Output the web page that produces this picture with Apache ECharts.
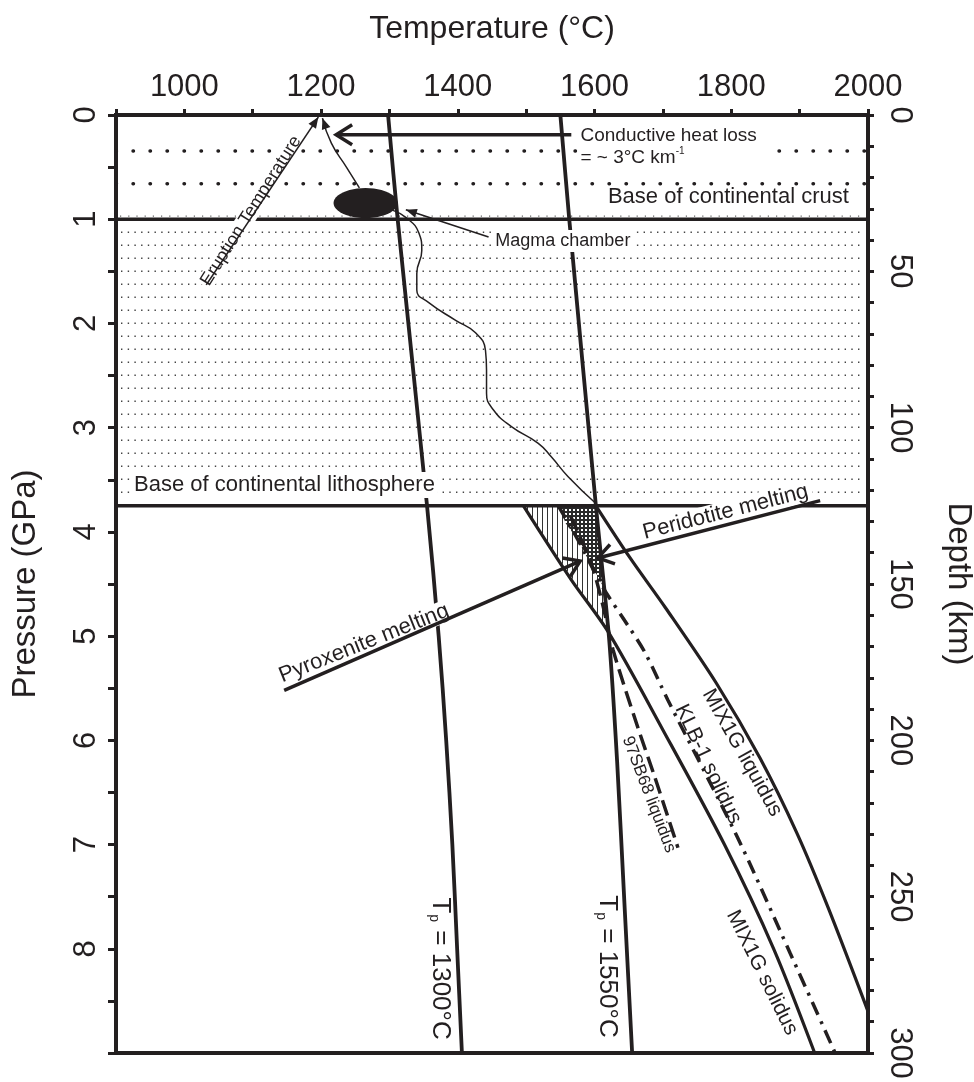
<!DOCTYPE html>
<html><head><meta charset="utf-8">
<script src="https://cdn.jsdelivr.net/npm/echarts@6/dist/echarts.min.js"></script>
<style>html,body{margin:0;padding:0;background:#fff}#c{width:974px;height:1082px}</style>
</head><body><div id="c"></div>
<script>
// ---------------- data (°C, GPa) ----------------
const tempLabels = [1000, 1200, 1400, 1600, 1800, 2000];
const pressureLabels = [0, 1, 2, 3, 4, 5, 6, 7, 8];
const depthLabels = [0, 50, 100, 150, 200, 250, 300];

const crustBase = 1.0;
const lithBase = 3.75;
const dotRows = [0.345, 0.66];

const tp1300 = [[1298,0],[1312,1],[1355,3.75],[1372,5.0],[1383,6.0],[1392,7.0],[1399,8.0],[1406,9]];
const tp1550 = [[1550,0],[1563,1],[1602,3.75],[1621,5.0],[1633,6.2],[1644,7.6],[1655,9]];
const mix1gLiquidus = [[1602,3.75],[1652,4.25],[1704,4.73],[1778,5.45],[1842,6.17],[1896,6.89],[1942,7.61],[2000,8.6]];
const mix1gSolidus = [[1496,3.75],[1566,4.46],[1620,4.96],[1700,5.9],[1790,7.0],[1862,8.0],[1922,9.0]];
const klb1Solidus = [[1547,3.75],[1576,4.08],[1612,4.53],[1644,4.85],[1674,5.16],[1707,5.61],[1809,6.93],[1886,8.04],[1952,9.0]];
const sb68Liquidus = [[1565,3.85],[1595,4.3],[1612,4.7],[1627,5.13],[1663,5.87],[1688,6.35],[1722,7.03]];
const magmaPath = [[1303.6,0.91],[1325.4,0.99],[1342.9,1.13],[1347.3,1.30],[1340,1.52],[1340,1.68],[1357.5,1.80],[1396.8,1.97],[1425.9,2.09],[1440.5,2.26],[1442,2.45],[1442,2.67],[1452.2,2.83],[1478.4,2.99],[1517.7,3.15],[1536.7,3.28],[1561.4,3.47],[1600.8,3.72]];
const ascentPath = [[1256,0.70],[1237,0.50],[1215,0.27],[1202,0.03]];
const magmaChamber = [1265, 0.845];
const pyroxeniteZone = [[1496,3.75],[1602,3.75],[1619,4.95]];
const peridotiteZone = [[1547,3.75],[1602,3.75],[1613,4.53],[1605,4.43],[1591,4.27],[1576,4.08],[1558,3.92]];
const eruptionArrow = [[1032,1.63],[1196,0.02]];
const conductiveArrow = [[1566,0.19],[1222,0.19]];
const chamberArrow = [[1445,1.17],[1324,0.91]];
const peridotiteArrow = [[1930,3.70],[1605,4.25]];
const pyroxeniteArrow = [[1146,5.52],[1579,4.28]];

// ---------------- styling ----------------
const FONT = "'Liberation Sans', Arial, Helvetica, sans-serif";
const INK = '#231f20';

function makeHatch() {
  const cv = document.createElement('canvas'); cv.width = 5; cv.height = 10;
  const g = cv.getContext('2d'); g.fillStyle = '#fff'; g.fillRect(0,0,5,10);
  g.fillStyle = '#333'; g.fillRect(2,0,1,10); return cv;
}
function makeCross() {
  const cv = document.createElement('canvas'); cv.width = 4; cv.height = 4;
  const g = cv.getContext('2d'); g.fillStyle = '#2a2a2a'; g.fillRect(0,0,4,4);
  g.fillStyle = '#fff'; g.fillRect(1,1,2,2); return cv;
}
const hatchCanvas = makeHatch();
const crossCanvas = makeCross();

function lineSeries(data, style, extra) {
  return Object.assign({
    type: 'line', data: data, symbol: 'none', silent: true, animation: false, z: 3,
    lineStyle: Object.assign({ color: INK, width: 3.5 }, style)
  }, extra || {});
}
function horiz(p) { return [[900, p], [2000, p]]; }

function arrowHead(tip, from, len, half, filled, lw) {
  const dx = tip[0]-from[0], dy = tip[1]-from[1], d = Math.hypot(dx, dy);
  const ux = dx/d, uy = dy/d, bx = tip[0]-ux*len, by = tip[1]-uy*len;
  const a = [bx - uy*half, by + ux*half], b = [bx + uy*half, by - ux*half];
  if (filled) return { type: 'polygon', shape: { points: [tip, a, b] }, style: { fill: INK } };
  return { type: 'polyline', shape: { points: [a, tip, b] }, style: { stroke: INK, lineWidth: lw, fill: null, lineJoin: 'miter' } };
}

function renderFills(params, api) {
  const cs = params.coordSys, kids = [];
  const yTop = api.coord([900, crustBase])[1], yBot = api.coord([900, lithBase])[1];
  kids.push({ type: 'line', shape: { x1: cs.x+4, y1: yTop-3, x2: cs.x+cs.width-4, y2: yTop-3 }, style: { stroke: '#666', lineWidth: 1.2, lineDash: [1.2, 7] } });
  for (let y = yTop + 13; y < yBot - 7; y += 13) {
    kids.push({ type: 'line', shape: { x1: cs.x+5, y1: y, x2: cs.x+cs.width-4, y2: y }, style: { stroke: '#444', lineWidth: 1.4, lineDash: [1.4, 5.3] } });
  }
  kids.push({ type: 'polygon', shape: { points: pyroxeniteZone.map(d => api.coord(d)) }, style: { fill: { image: hatchCanvas, repeat: 'repeat' } } });
  kids.push({ type: 'polygon', shape: { points: peridotiteZone.map(d => api.coord(d)) }, style: { fill: { image: crossCanvas, repeat: 'repeat' } } });
  return { type: 'group', children: kids };
}

function renderNotes(params, api) {
  const c = d => api.coord(d);
  const kids = [];
  function txt(t, p, text, o) {
    const pt = c([t, p]);
    const st = { text: text, fontFamily: FONT, fontSize: o.size, fill: INK, align: o.align || 'center', verticalAlign: 'middle' };
    if (o.bg) { st.backgroundColor = '#fff'; st.padding = o.pad || [1, 3]; }
    if (o.rich) st.rich = o.rich;
    if (o.lh) st.lineHeight = o.lh;
    kids.push({ type: 'text', x: pt[0], y: pt[1], rotation: (o.rot || 0) * Math.PI / 180, style: st });
  }
  function seg(arr, lw) {
    kids.push({ type: 'polyline', shape: { points: arr.map(c) }, style: { stroke: INK, lineWidth: lw, fill: null } });
  }
  // magma chamber
  const cc = c(magmaChamber), rx = 32, ry = 15, pts = [];
  for (let i = 0; i < 48; i++) { const a = i / 48 * Math.PI * 2; pts.push([cc[0] + rx*Math.cos(a), cc[1] + ry*Math.sin(a)]); }
  kids.push({ type: 'polygon', shape: { points: pts }, style: { fill: INK } });

  const sub = { s: { fontSize: 14, fontFamily: FONT, fill: INK, verticalAlign: 'bottom', padding: [0, 1, 0, 1] } };
  txt(1972, 0.79, 'Base of continental crust', { size: 22, align: 'right' });
  txt(922, 3.55, 'Base of continental lithosphere', { size: 22, align: 'left', bg: true, pad: [2, 3] });
  txt(1575, 0.30, 'Conductive heat loss\n= ~ 3°C km{sup|-1}', { size: 19, align: 'left', bg: true, lh: 22, pad: [2, 12, 2, 3],
      rich: { sup: { fontSize: 10, fontFamily: FONT, fill: INK, verticalAlign: 'top' } } });
  txt(1449, 1.21, 'Magma chamber', { size: 18, align: 'left', bg: true, pad: [2, 4] });
  txt(1791.6, 3.81, 'Peridotite melting', { size: 22, rot: 14.3, bg: true, pad: [0, 4] });
  txt(1262.8, 5.07, 'Pyroxenite melting', { size: 22, rot: 21.7, bg: true, pad: [0, 4] });
  txt(1373.5, 8.19, 'T{s|p} = 1300°C', { size: 26, rot: -90, rich: sub });
  txt(1618, 8.17, 'T{s|p} = 1550°C', { size: 26, rot: -90, rich: sub });
  txt(1816, 6.12, 'MIX1G liquidus', { size: 21, rot: -60.7 });
  txt(1766, 6.23, 'KLB-1 solidus', { size: 21, rot: -64.5 });
  txt(1845, 8.23, 'MIX1G solidus', { size: 21, rot: -63.6 });
  txt(1679.4, 6.52, '97SB68 liquidus', { size: 17, rot: -69 });
  txt(1097.5, 0.92, 'Eruption Temperature', { size: 18, rot: 57.8, bg: true, pad: [0, 2] });

  // arrows
  seg(eruptionArrow, 1.6);
  kids.push(arrowHead(c(eruptionArrow[1]), c(eruptionArrow[0]), 11, 4.5, true));
  kids.push(arrowHead(c(ascentPath[3]), c(ascentPath[2]), 11, 4.5, true));
  seg(conductiveArrow, 3.5);
  kids.push(arrowHead(c(conductiveArrow[1]), c(conductiveArrow[0]), 16, 10, false, 3.5));
  seg(chamberArrow, 1.6);
  kids.push(arrowHead(c(chamberArrow[1]), c(chamberArrow[0]), 11, 4.5, true));
  seg(peridotiteArrow, 3.5);
  kids.push(arrowHead(c(peridotiteArrow[1]), c(peridotiteArrow[0]), 15, 10, false, 3.5));
  seg(pyroxeniteArrow, 3.5);
  kids.push(arrowHead(c(pyroxeniteArrow[1]), c(pyroxeniteArrow[0]), 15, 10, false, 3.5));
  return { type: 'group', children: kids };
}

const chart = echarts.init(document.getElementById('c'), null, { renderer: 'canvas' });
chart.setOption({
  animation: false,
  backgroundColor: '#fff',
  grid: { left: 116, right: 106, top: 115, bottom: 29, containLabel: false, outerBoundsMode: 'none',
          show: true, borderColor: INK, borderWidth: 4, backgroundColor: 'transparent' },
  xAxis: {
    type: 'value', position: 'top', min: 900, max: 2000, interval: 100,
    name: 'Temperature (°C)', nameLocation: 'middle', nameGap: 70,
    nameTextStyle: { fontFamily: FONT, fontSize: 32, color: INK },
    axisLine: { onZero: false, lineStyle: { color: INK, width: 4 } },
    axisTick: { length: 6, lineStyle: { color: INK, width: 3 } },
    axisLabel: { fontFamily: FONT, fontSize: 31, color: INK, margin: 12,
      formatter: v => tempLabels.includes(v) ? String(v) : '' },
    splitLine: { show: false }
  },
  yAxis: [{
    type: 'value', position: 'left', inverse: true, min: 0, max: 9, interval: 0.5,
    name: 'Pressure (GPa)', nameLocation: 'middle', nameGap: 74, nameRotate: 90,
    nameTextStyle: { fontFamily: FONT, fontSize: 33, color: INK },
    axisLine: { onZero: false, lineStyle: { color: INK, width: 4 } },
    axisTick: { length: 8, lineStyle: { color: INK, width: 3 } },
    axisLabel: { fontFamily: FONT, fontSize: 31, color: INK, margin: 14, rotate: 90,
      formatter: v => pressureLabels.includes(v) ? String(v) : '' },
    splitLine: { show: false }
  }, {
    type: 'value', position: 'right', inverse: true, min: 0, max: 300, interval: 10,
    name: 'Depth (km)', nameLocation: 'middle', nameGap: 74, nameRotate: -90,
    nameTextStyle: { fontFamily: FONT, fontSize: 33, color: INK },
    axisLine: { onZero: false, lineStyle: { color: INK, width: 4 } },
    axisTick: { length: 6, lineStyle: { color: INK, width: 3 } },
    axisLabel: { fontFamily: FONT, fontSize: 31, color: INK, margin: 16, rotate: -90,
      formatter: v => depthLabels.includes(v) ? String(v) : '' },
    splitLine: { show: false }
  }],
  series: [
    { type: 'custom', data: [[1400, 4]], renderItem: renderFills, z: 1, silent: true, animation: false, clip: true },
    lineSeries(horiz(dotRows[0]), { width: 3.4, type: [0.5, 16.5], cap: 'round' }, { z: 2 }),
    lineSeries(horiz(dotRows[1]), { width: 3.4, type: [0.5, 16.5], cap: 'round' }, { z: 2 }),
    lineSeries(horiz(crustBase), { width: 3.5 }),
    lineSeries(horiz(lithBase), { width: 3.5 }),
    lineSeries(tp1300, { width: 3.8 }, { smooth: 0.3 }),
    lineSeries(tp1550, { width: 3.8 }, { smooth: 0.2 }),
    lineSeries(mix1gLiquidus, { width: 3.2 }, { smooth: 0.3 }),
    lineSeries(mix1gSolidus, { width: 3.2 }, { smooth: 0.3 }),
    lineSeries(klb1Solidus, { width: 3.5, type: [14, 7, 3, 7] }, { smooth: 0.3 }),
    lineSeries(sb68Liquidus, { width: 3.5, type: [16, 7] }, { smooth: 0.3 }),
    lineSeries(magmaPath, { width: 1.5 }, { smooth: 0.5 }),
    lineSeries(ascentPath, { width: 1.5 }, { smooth: 0.5 }),
    { type: 'custom', data: [[1400, 4]], renderItem: renderNotes, z: 5, silent: true, animation: false, clip: false }
  ]
});
</script>
</body></html>
